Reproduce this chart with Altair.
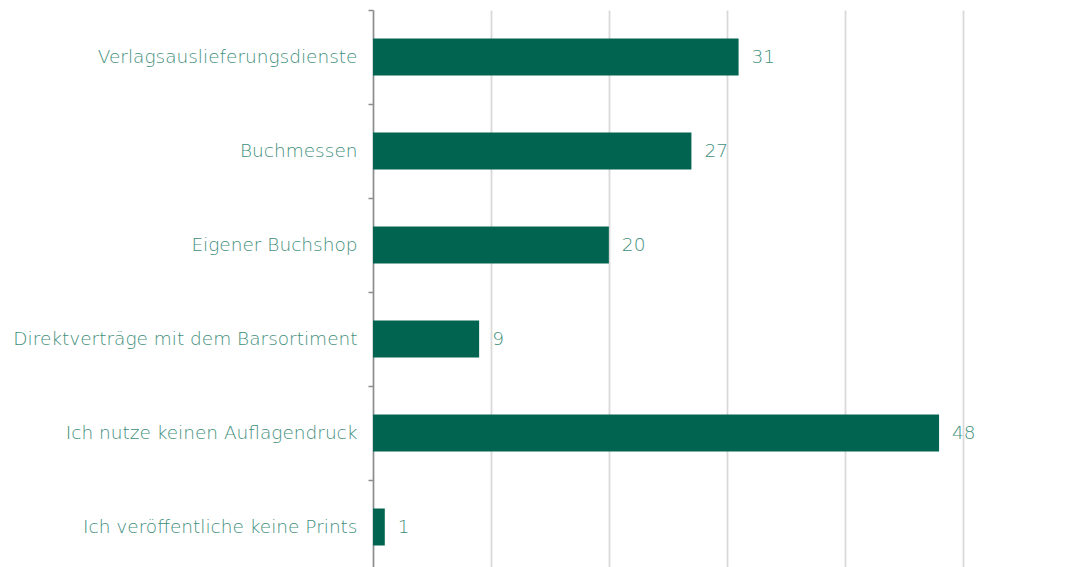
import altair as alt
import pandas as pd

categories = [
    "Verlagsauslieferungsdienste",
    "Buchmessen",
    "Eigener Buchshop",
    "Direktverträge mit dem Barsortiment",
    "Ich nutze keinen Auflagendruck",
    "Ich veröffentliche keine Prints",
]
values = [31, 27, 20, 9, 48, 1]

df = pd.DataFrame({"cat": categories, "val": values})

BAR = "#006450"
TXT = "#3f8f7c"
FONT = "DejaVu Sans"

y = alt.Y(
    "cat:N",
    sort=categories,
    title=None,
    scale=alt.Scale(paddingInner=0, paddingOuter=0),
    axis=alt.Axis(
        bandPosition=0,
        labelOffset=0,
        tickSize=5,
        tickColor="#8c8c8c",
        tickWidth=1.5,
        domainColor="#8c8c8c",
        domainWidth=1.5,
        labelPadding=11,
        labelFont=FONT,
        labelFontSize=18.5,
        labelFontWeight=200,
        labelColor=TXT,
        labelLimit=400,
        grid=False,
    ),
)

x = alt.X(
    "val:Q",
    title=None,
    scale=alt.Scale(domain=[0, 58], nice=False),
    axis=alt.Axis(
        values=[0, 10, 20, 30, 40, 50],
        labels=False,
        ticks=False,
        domain=False,
        grid=True,
        gridColor="#d9d9d9",
        gridWidth=1.8,
    ),
)

bars = alt.Chart(df).mark_bar(color=BAR, size=37).encode(x=x, y=y)

labels = alt.Chart(df).mark_text(
    align="left", baseline="middle", dx=13, font=FONT, fontSize=18.5,
    fontWeight=200, color=TXT
).encode(x="val:Q", y=alt.Y("cat:N", sort=categories), text="val:Q")

chart = (
    alt.layer(bars, labels)
    .properties(
        width=684,
        height=564,
        autosize=alt.AutoSizeParams(type="none"),
        padding={"left": 365, "top": 2, "right": 0, "bottom": 0},
    )
    .configure_view(stroke=None)
)

chart.save("out.html", embed_options={"renderer": "svg", "actions": False})
